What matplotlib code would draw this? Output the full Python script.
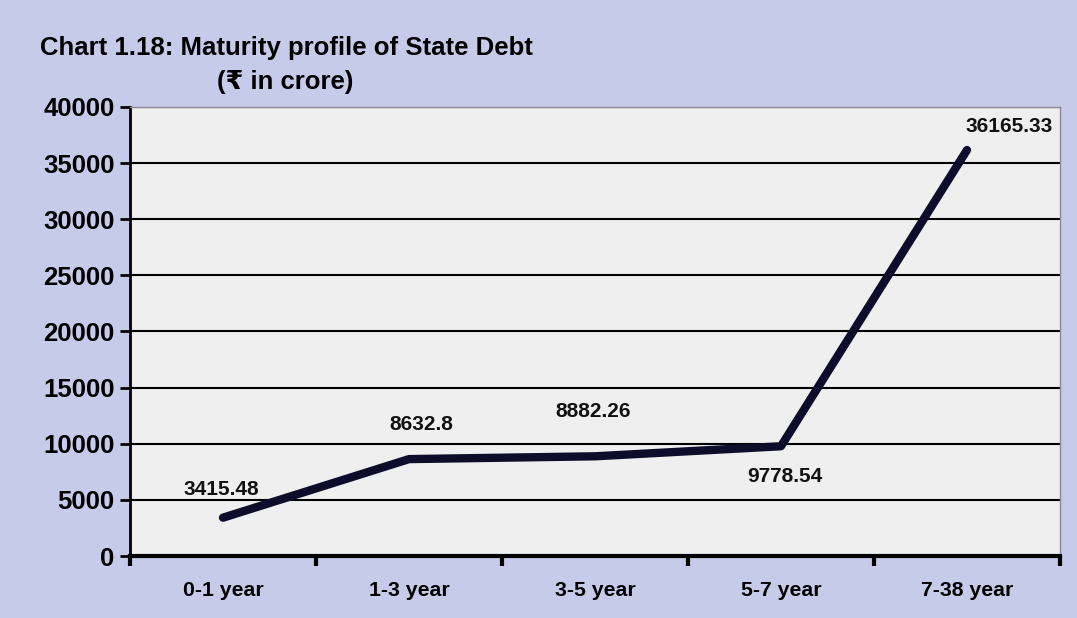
import matplotlib.pyplot as plt

plt.rcParams['font.family'] = ['Liberation Sans', 'DejaVu Sans']

periods = ['0-1 year', '1-3 year', '3-5 year', '5-7 year', '7-38 year']
debt = [3415.48, 8632.8, 8882.26, 9778.54, 36165.33]
labels = ['3415.48', '8632.8', '8882.26', '9778.54', '36165.33']

bg = '#c7cbea'
fig = plt.figure(figsize=(10.77, 6.18), dpi=100, facecolor=bg)
ax = fig.add_axes([0.1207, 0.1003, 0.8635, 0.7266])
ax.set_facecolor('#efefef')

x = range(len(periods))
ax.plot(x, debt, color='#0d0d2b', lw=6, solid_capstyle='round', zorder=3)

# data labels (offset in points from each point)
offs = [(-1, 20), (9, 25), (-1, 32), (3, -22), (30, 17)]
for xi, yi, lab, (dx, dy) in zip(x, debt, labels, offs):
    ax.annotate(lab, (xi, yi), xytext=(dx, dy), textcoords='offset points',
                ha='center', va='center', fontsize=15, fontweight='bold',
                color='#111111')

ax.set_xlim(-0.5, 4.5)
ax.set_ylim(0, 40000)
ax.set_yticks(range(0, 40001, 5000))
ax.set_xticks([i - 0.5 for i in range(6)])
ax.set_xticklabels([])
ax.set_xticks(list(x), minor=True)
ax.set_xticklabels(periods, minor=True)
ax.tick_params(axis='x', which='minor', length=0, pad=18, labelsize=15.3)
ax.tick_params(axis='x', which='major', length=7, width=3, direction='out', color='black')
ax.tick_params(axis='y', length=7, width=2, labelsize=18.5, pad=4)
for t in ax.get_xticklabels(minor=True) + ax.get_yticklabels():
    t.set_fontweight('bold')

ax.grid(axis='y', color='black', lw=1.5)
ax.set_axisbelow(True)
for s in ['top', 'right']:
    ax.spines[s].set_color('#8a8a9a')
    ax.spines[s].set_linewidth(1)
ax.spines['left'].set_linewidth(2)
ax.spines['bottom'].set_linewidth(3)

fig.text(0.037, 0.922, 'Chart 1.18: Maturity profile of State Debt',
         fontsize=18.5, fontweight='bold', ha='left', va='center')
fig.text(0.265, 0.868, '(₹ in crore)', fontsize=18.5, fontweight='bold',
         ha='center', va='center', family=['Liberation Sans', 'DejaVu Sans', 'Noto Sans'])

fig.savefig('out.png', dpi=100, facecolor=bg)
